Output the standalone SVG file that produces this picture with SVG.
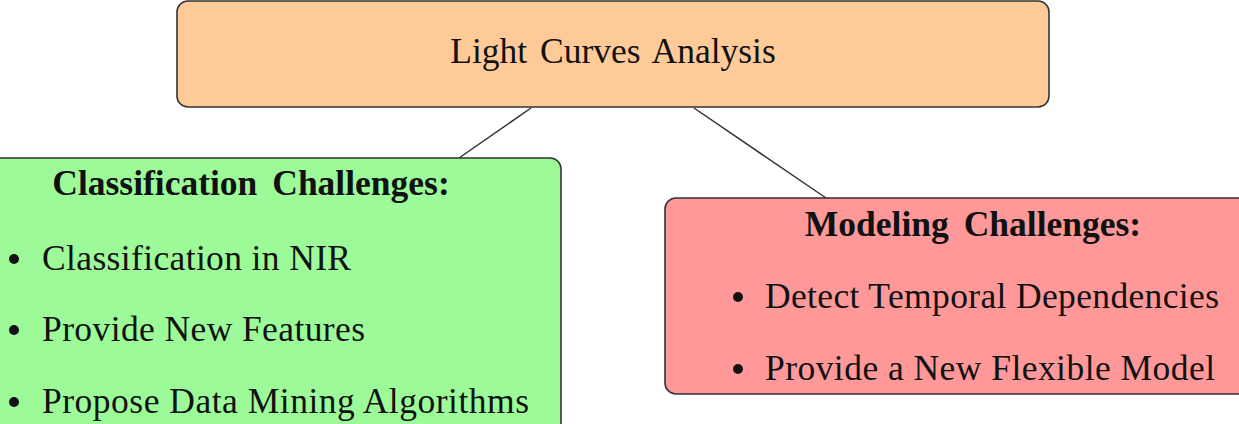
<svg xmlns="http://www.w3.org/2000/svg" width="1239" height="424" viewBox="0 0 1239 424">
<style>
.box{stroke:#333;stroke-width:1.6}
.t{font-family:"Liberation Serif","Times New Roman",serif;font-size:35.5px;fill:#111}
.b{font-weight:bold}
.conn{stroke:#333;stroke-width:1.5;fill:none}
</style>
<rect width="1239" height="424" fill="#fff"/>
<g id="connectors">
<line class="conn" x1="531" y1="108" x2="459" y2="158"/>
<line class="conn" x1="694" y1="108" x2="826" y2="198"/>
</g>
<g id="node-root">
<rect class="box" x="177" y="1" width="872" height="106" rx="11" fill="#FECB98"/>
<text class="t" x="613" y="63" text-anchor="middle" word-spacing="4">Light Curves Analysis</text>
</g>
<g id="node-classification">
<rect class="box" x="-12" y="158" width="573" height="290" rx="11" fill="#9CFB98"/>
<text class="t b" x="251" y="195" text-anchor="middle" word-spacing="6">Classification Challenges:</text>
<circle cx="14" cy="259" r="5" fill="#111"/>
<text class="t" x="42" y="270" textLength="309" lengthAdjust="spacing">Classification in NIR</text>
<circle cx="14" cy="330" r="5" fill="#111"/>
<text class="t" x="42" y="341" textLength="323" lengthAdjust="spacing">Provide New Features</text>
<circle cx="14" cy="402" r="5" fill="#111"/>
<text class="t" x="42" y="413" textLength="487" lengthAdjust="spacing">Propose Data Mining Algorithms</text>
</g>
<g id="node-modeling">
<rect class="box" x="665" y="198" width="600" height="196" rx="11" fill="#FF9999"/>
<text class="t b" x="973" y="236" text-anchor="middle" word-spacing="6">Modeling Challenges:</text>
<circle cx="738" cy="297" r="5" fill="#111"/>
<text class="t" x="765" y="308" textLength="454" lengthAdjust="spacing">Detect Temporal Dependencies</text>
<circle cx="738" cy="369" r="5" fill="#111"/>
<text class="t" x="765" y="380" textLength="450" lengthAdjust="spacing">Provide a New Flexible Model</text>
</g>
</svg>
